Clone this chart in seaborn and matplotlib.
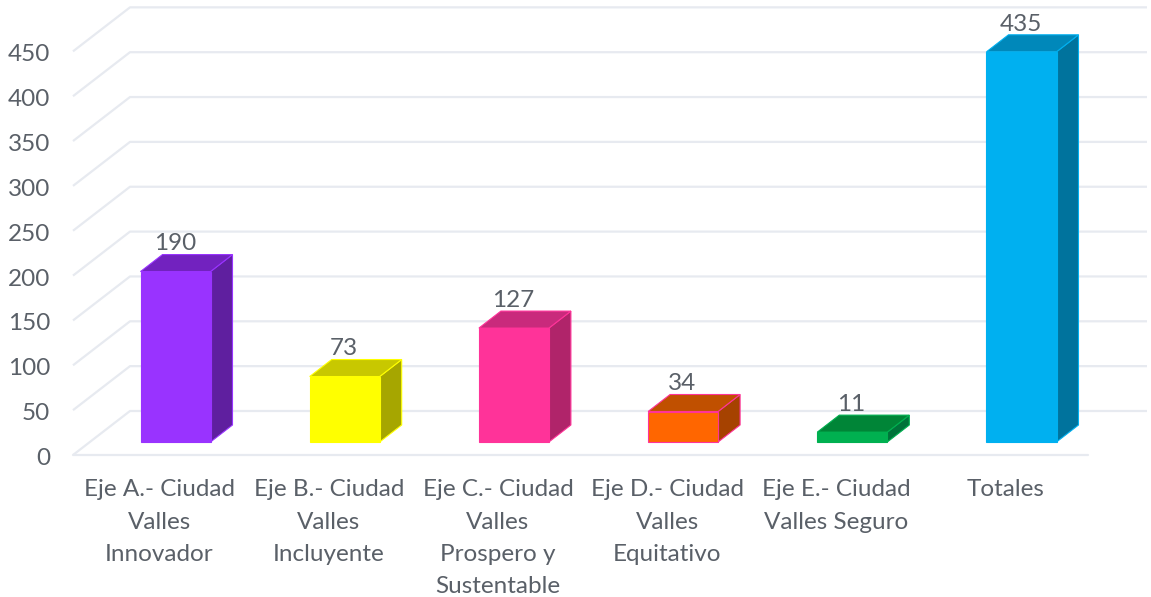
import matplotlib
matplotlib.use("Agg")
import matplotlib.pyplot as plt
import seaborn as sns
import pandas as pd

categories = ["Eje A.- Ciudad\nValles\nInnovador", "Eje B.- Ciudad\nValles\nIncluyente",
              "Eje C.- Ciudad\nValles\nProspero y\nSustentable", "Eje D.- Ciudad\nValles\nEquitativo",
              "Eje E.- Ciudad\nValles Seguro", "Totales"]
values = [190, 73, 127, 34, 11, 435]
y_ticks = [0, 50, 100, 150, 200, 250, 300, 350, 400, 450]

front_colors = ["#9933FF", "#FFFF00", "#FF3399", "#FF6600", "#00B050", "#00B0F0"]
side_colors = ["#5F1F9F", "#A6A600", "#B0246A", "#A64200", "#00733A", "#00739D"]
top_colors = ["#7222BF", "#C8C800", "#C92A7C", "#C05000", "#008537", "#0088BA"]
edge_colors = ["#9933FF", "#FFFF00", "#FF3399", "#FF3399", "#00B050", "#00B0F0"]

# scale of the picture
px_x = 169.2
px_y = 0.897

sns.set_style("white")
plt.rcParams['font.family'] = ['Lato', 'DejaVu Sans']
text_color = "#5A6068"

df = pd.DataFrame({'Eje': categories, 'Total': values})

fig = plt.figure(figsize=(11.51, 5.97), dpi=100)
ax = fig.add_axes([0, 0, 1, 1])
sns.barplot(x='Eje', y='Total', hue='Eje', data=df, palette=front_colors, width=70 / px_x,
            dodge=False, legend=False, saturation=1, ax=ax, zorder=3)
ax.set_xlim(-175.5 / px_x, (1151 - 175.5) / px_x)
ax.set_ylim((442 - 597) / px_y, 442 / px_y)
ax.axis('off')

# wall and floor lines
wall_x0 = (73 - 175.5) / px_x
wall_dx = 57 / px_x
wall_dy = 44 / px_y
floor_drop = 13 / px_y
grid_color = "#E7EAF0"
for v in y_ticks:
    y0 = v - floor_drop
    ax.plot([wall_x0, wall_x0 + wall_dx, (1147 - 175.5) / px_x], [y0, y0 + wall_dy, y0 + wall_dy],
            color=grid_color, lw=1.6, zorder=1, solid_capstyle='butt')
    ax.annotate(str(v), (wall_x0, y0), xytext=(-16.5, -2.5), textcoords='offset points', ha='right',
                va='center', fontsize=17.5, color=text_color)
ax.plot([wall_x0, (1088 - 175.5) / px_x], [-floor_drop, -floor_drop], color=grid_color, lw=1.6, zorder=1)

# 3D faces of the bars
dx = 22 / px_x
dy = 17 / px_y
for i, bar in enumerate(ax.patches):
    x0 = bar.get_x()
    x1 = x0 + bar.get_width()
    h = bar.get_height()
    bar.set_edgecolor(edge_colors[i])
    bar.set_linewidth(0.8)
    ax.fill([x1, x1 + dx, x1 + dx, x1], [0, dy, h + dy, h], facecolor=side_colors[i],
            edgecolor=edge_colors[i], lw=0.8, zorder=2.5)
    ax.fill([x0, x0 + dx, x1 + dx, x1], [h, h + dy, h + dy, h], facecolor=top_colors[i],
            edgecolor=edge_colors[i], lw=0.8, zorder=2.5)
    ax.annotate(str(values[i]), (i, h), xytext=(-0.5, 20), textcoords='offset points', ha='center',
                va='center', fontsize=17.5, color=text_color, zorder=5)
    ax.annotate(categories[i], (i, 0), xytext=(-11.5, -27), textcoords='offset points', ha='center',
                va='top', fontsize=17.5, color=text_color, linespacing=1.65)

fig.savefig("out.png", dpi=100)
